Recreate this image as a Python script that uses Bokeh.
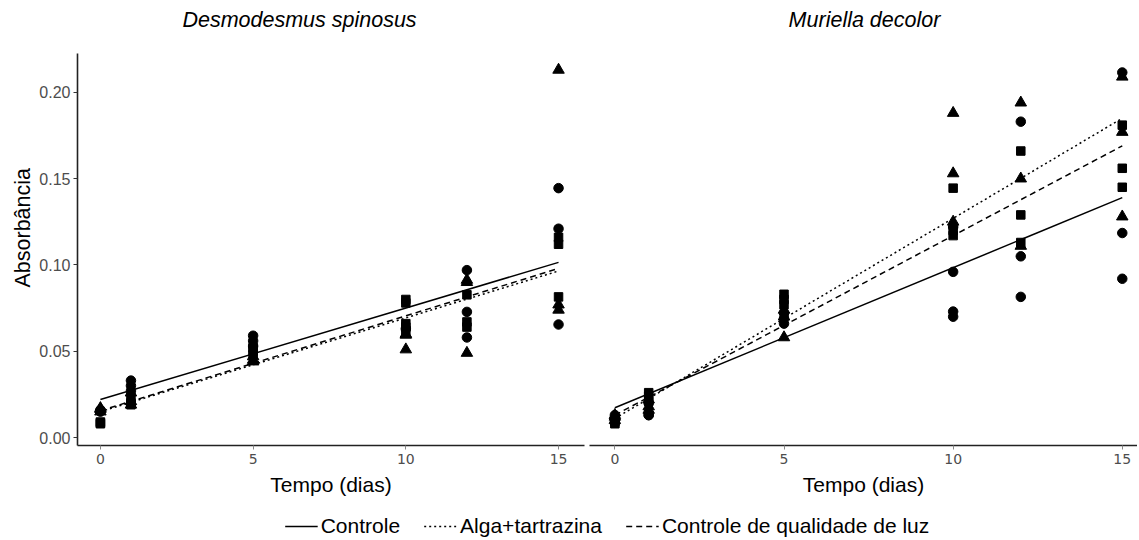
from bokeh.plotting import figure
from bokeh.models import Range1d, Legend, LegendItem, PrintfTickFormatter, Title, Label
from bokeh.layouts import column, row
from bokeh.embed import file_html
from bokeh.resources import INLINE

# ---------------- data ----------------
treatments = ["Controle", "Alga+tartrazina", "Controle de qualidade de luz"]
species = ["Desmodesmus spinosus", "Muriella decolor"]
tick_days = [0, 5, 10, 15]
y_ticks = [0.0, 0.05, 0.10, 0.15, 0.20]

# Desmodesmus spinosus
ds_time = [0]*9 + [1]*9 + [5]*9 + [10]*9 + [12]*9 + [15]*9
ds_shape = (["triangle", "triangle", "circle", "circle", "square", "square", "triangle", "circle", "square"]
            + ["circle", "circle", "circle", "triangle", "square", "triangle", "square", "triangle", "square"]
            + ["circle", "circle", "circle", "square", "square", "square", "triangle", "triangle", "triangle"]
            + ["square", "square", "square", "square", "square", "triangle", "triangle", "circle", "triangle"]
            + ["circle", "triangle", "square", "circle", "square", "square", "circle", "triangle", "triangle"]
            + ["triangle", "circle", "circle", "square", "square", "square", "triangle", "triangle", "circle"])
ds_abs = ([0.017, 0.0165, 0.016, 0.0155, 0.008, 0.0085, 0.015, 0.015, 0.009]
          + [0.033, 0.030, 0.027, 0.026, 0.023, 0.021, 0.020, 0.019, 0.019]
          + [0.059, 0.056, 0.053, 0.052, 0.050, 0.048, 0.047, 0.045, 0.044]
          + [0.080, 0.078, 0.066, 0.064, 0.062, 0.0595, 0.051, 0.063, 0.060]
          + [0.097, 0.0913, 0.0827, 0.0728, 0.067, 0.064, 0.058, 0.049, 0.090]
          + [0.213, 0.1445, 0.121, 0.116, 0.112, 0.0815, 0.077, 0.074, 0.0655])
ds_fit_start = [0.022, 0.015, 0.0155]
ds_fit_end = [0.1015, 0.0965, 0.098]

# Muriella decolor
md_time = [0]*9 + [1]*9 + [5]*9 + [10]*10 + [12]*9 + [15]*9
md_shape = (["circle", "triangle", "square", "circle", "square", "square", "triangle", "circle", "triangle"]
            + ["square", "square", "triangle", "circle", "triangle", "triangle", "circle", "circle", "square"]
            + ["square", "square", "square", "triangle", "circle", "circle", "circle", "triangle", "triangle"]
            + ["triangle", "triangle", "square", "triangle", "circle", "square", "square", "circle", "circle", "circle"]
            + ["triangle", "circle", "square", "triangle", "square", "square", "triangle", "circle", "circle"]
            + ["circle", "triangle", "square", "triangle", "square", "square", "triangle", "circle", "circle"])
md_abs = ([0.013, 0.012, 0.010, 0.011, 0.009, 0.008, 0.013, 0.009, 0.010]
          + [0.026, 0.024, 0.022, 0.020, 0.018, 0.016, 0.013, 0.013, 0.021]
          + [0.083, 0.080, 0.077, 0.074, 0.072, 0.069, 0.066, 0.070, 0.058]
          + [0.188, 0.153, 0.1445, 0.125, 0.122, 0.120, 0.117, 0.096, 0.073, 0.070]
          + [0.194, 0.183, 0.166, 0.150, 0.129, 0.113, 0.111, 0.105, 0.0815]
          + [0.2115, 0.209, 0.181, 0.177, 0.156, 0.145, 0.128, 0.1185, 0.092])
md_fit_start = [0.0173, 0.011, 0.013]
md_fit_end = [0.139, 0.185, 0.169]

# ---------------- styling ----------------
DASHES = ["solid", "2 3", "6 4"]
FONT = "Liberation Sans"
SIZES = {"circle": 9.5, "square": 8.5, "triangle": 11.5}
TOP_H = 38
H = 460

y_range = Range1d(-0.0046, 0.2225)


def panel(times, shapes, vals, starts, ends, x_range, width, left_axis, bl, br):
    p = figure(width=width, height=H, x_range=x_range, y_range=y_range,
               output_backend="svg", toolbar_location=None,
               y_axis_location="left" if left_axis else None,
               min_border_left=bl, min_border_right=br,
               min_border_top=15, min_border_bottom=52)
    p.outline_line_color = None
    p.xgrid.visible = False
    p.ygrid.visible = False

    ax = p.xaxis[0]
    ax.ticker = tick_days
    ax.axis_label = "Tempo (dias)"
    ax.axis_label_text_font = FONT
    ax.axis_label_text_font_size = "21px"
    ax.axis_label_text_font_style = "normal"
    ax.axis_label_text_color = "black"
    ax.axis_label_standoff = 6
    ax.major_label_text_font = "DejaVu Sans"
    ax.major_label_text_font_size = "14px"
    ax.major_label_text_color = "#4d4d4d"
    ax.major_label_standoff = 4
    ax.axis_line_width = 1.6
    ax.axis_line_color = "#222222"
    ax.major_tick_in = 0
    ax.major_tick_out = 4
    ax.major_tick_line_color = "#888888"
    ax.minor_tick_line_color = None

    if left_axis:
        ay = p.yaxis[0]
        ay.ticker = y_ticks
        ay.formatter = PrintfTickFormatter(format="%.2f")
        ay.major_label_text_font = FONT
        ay.major_label_text_font_size = "16px"
        ay.major_label_text_color = "#4d4d4d"
        ay.major_label_standoff = 3
        ay.axis_line_width = 1.6
        ay.axis_line_color = "#222222"
        ay.major_tick_in = 0
        ay.major_tick_out = 4
        ay.major_tick_line_color = "#333333"
        ay.minor_tick_line_color = None
        ylab = Title(text="Absorbância", align="left", offset=158,
                     text_font=FONT, text_font_size="21.5px", text_font_style="normal",
                     text_color="black", standoff=4)
        p.add_layout(ylab, "left")

    t0, t1 = min(times), max(times)
    for s, e, d in zip(starts, ends, DASHES):
        p.line(x=[t0, t1], y=[s, e], line_color="black", line_width=1.5, line_dash=d)

    for shp in ["circle", "square", "triangle"]:
        xs = [t for t, sh in zip(times, shapes) if sh == shp]
        ys = [v for v, sh in zip(vals, shapes) if sh == shp]
        p.scatter(x=xs, y=ys, marker=shp, size=SIZES[shp], color="black")
    return p


def strip(height, bl):
    f = figure(width=1137, height=height, x_range=Range1d(0, 1), y_range=Range1d(0, 1),
               x_axis_location=None, y_axis_location=None, toolbar_location=None,
               output_backend="svg", min_border_left=bl, min_border_right=0,
               min_border_top=0, min_border_bottom=0)
    f.outline_line_color = None
    f.grid.visible = False
    return f


# title strip
tf = strip(TOP_H, 0)
for name, cx in zip(species, [222, 787]):
    tf.add_layout(Label(x=cx, y=TOP_H - 19, x_units="screen", y_units="screen",
                        text=name, text_font=FONT, text_font_size="21.5px",
                        text_font_style="italic", text_color="black",
                        text_align="center", text_baseline="middle"))

p1 = panel(ds_time, ds_shape, ds_abs, ds_fit_start, ds_fit_end,
           Range1d(-0.75, 15.85), 586, True, 77, 2)
p2 = panel(md_time, md_shape, md_abs, md_fit_start, md_fit_end,
           Range1d(-0.75, 15.45), 551, False, 3, 0)

# legend strip
lf = strip(40, 77)
items = []
for name, d in zip(treatments, DASHES):
    r = lf.line(x=[-10, -9], y=[-10, -9], line_color="black", line_width=1.5, line_dash=d)
    items.append(LegendItem(label=name, renderers=[r]))
leg = Legend(items=items, orientation="horizontal", location="bottom_center",
             border_line_color=None, background_fill_alpha=0,
             label_text_font=FONT, label_text_font_size="21px", label_text_color="black",
             glyph_width=33, label_standoff=3, spacing=24, margin=0, padding=13)
lf.add_layout(leg, "center")

layout = column(tf, row(p1, p2), lf)
open("out.html", "w").write(file_html(layout, INLINE))
